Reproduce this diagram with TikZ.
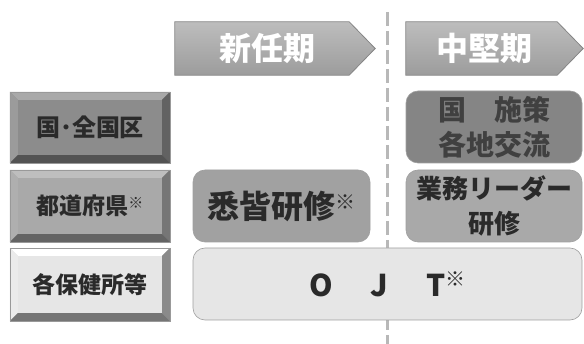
\documentclass[tikz,border=0pt]{standalone}
\usepackage{fontspec}
\newfontfamily\jp{Noto Sans CJK JP}
\usetikzlibrary{calc}
\definecolor{hdrtop}{HTML}{BDBDBD}
\definecolor{hdrbot}{HTML}{9C9C9C}
\definecolor{hdredge}{HTML}{858585}
\definecolor{dashc}{HTML}{B8B8B8}
\definecolor{natface}{HTML}{8C8C8C}
\definecolor{prefface}{HTML}{A9A9A9}
\definecolor{locface}{HTML}{E6E6E6}
\definecolor{txt}{HTML}{2A2A2A}
\newcommand\mybevel[4]{%
  \fill[#2] (#1.north west) -- (#1.north east) -- ($(#1.north east)+(-#4,#4)$) -- ($(#1.north west)+(#4,#4)$) -- cycle;
  \fill[#2!92!black] (#1.north west) -- ($(#1.north west)+(#4,#4)$) -- ($(#1.south west)+(#4,-#4)$) -- (#1.south west) -- cycle;
  \fill[#3] (#1.north east) -- (#1.south east) -- ($(#1.south east)+(-#4,-#4)$) -- ($(#1.north east)+(-#4,#4)$) -- cycle;
  \fill[#3!85!black] (#1.south west) -- (#1.south east) -- ($(#1.south east)+(-#4,-#4)$) -- ($(#1.south west)+(#4,-#4)$) -- cycle;
  \draw[gray!80, line width=0.5pt] (#1.north west) rectangle (#1.south east);
}
% pentagon arrow drawn around a named node, tip length #2
\newcommand\myarrow[2]{%
  \path[top color=hdrtop, bottom color=hdrbot, draw=hdredge, line width=0.8pt]
    (#1.north west) -- ($(#1.north east)+(-#2,0)$) -- (#1.east) -- ($(#1.south east)+(-#2,0)$) -- (#1.south west) -- cycle;
}
\tikzset{
  phase/.style={rectangle, minimum height=53pt, inner sep=0pt,
    text=white, font=\jp\bfseries\fontsize{32}{32}\selectfont},
  level/.style={rectangle, minimum width=160pt, inner sep=0pt, text=txt,
    font=\jp\bfseries\fontsize{23}{23}\selectfont},
  course/.style={rectangle, rounded corners=12pt, draw=gray!75, line width=0.6pt, inner sep=0pt,
    align=center, text=txt, minimum height=72pt},
  divider/.style={dashc, line width=3pt, dash pattern=on 14pt off 5pt},
}
\begin{document}
\begin{tikzpicture}[x=1pt,y=-1pt]
\useasboundingbox (0,0) rectangle (584,344);
% divider
\coordinate (dtop) at (387,12);
\coordinate (dbot) at (387,344);
\draw[divider] (dtop) -- (dbot);
% headers
\path (275,48.5) node[phase, minimum width=200pt] (newp) {};
\myarrow{newp}{26}
\node[phase] (newpt) at ($(newp.center)+(-8,0)$) {新任期};
\path (494.5,48.5) node[phase, minimum width=177pt] (midp) {};
\myarrow{midp}{26}
\node[phase] (midpt) at ($(midp.center)+(-10,0)$) {中堅期};
% left levels
\node[level, minimum height=71pt, fill=natface, font=\jp\bfseries\fontsize{24}{24}\selectfont] (nat) at (90,127.5) {国･全国区};
\mybevel{nat}{natface!75!white}{natface!70!black}{8}
\node[level, minimum height=72pt, fill=prefface] (pref) at (90,206) {都道府県\raisebox{6pt}{\fontsize{15}{15}\selectfont ※}};
\mybevel{pref}{prefface!75!white}{prefface!70!black}{8}
\node[level, minimum height=73pt, fill=locface] (loc) at (90,284.5) {各保健所等};
\mybevel{loc}{white}{locface!60!black}{8}
% courses
\node[course, minimum width=177pt, fill=prefface!95!black, font=\jp\bfseries\fontsize{32}{32}\selectfont] (shikkai) at (281.5,206) {悉皆研修\raisebox{9pt}{\fontsize{20}{20}\selectfont ※}};
\node[course, minimum width=176pt, fill=natface!95!black, font=\jp\bfseries\fontsize{28}{35}\selectfont, text=black!75] (kuni) at (494,127) {国　施策\\各地交流};
\node[course, minimum width=176pt, fill=prefface, font=\jp\bfseries\fontsize{26}{35}\selectfont] (gyomu) at (494,206) {業務リーダー\\研修};
\node[course, minimum width=389pt, fill=locface, font=\jp\bfseries\fontsize{30}{30}\selectfont] (ojt) at (387.5,284) {O\hspace{38pt}J\hspace{38pt}T\raisebox{10pt}{\fontsize{20}{20}\selectfont ※}};
\end{tikzpicture}
\end{document}
